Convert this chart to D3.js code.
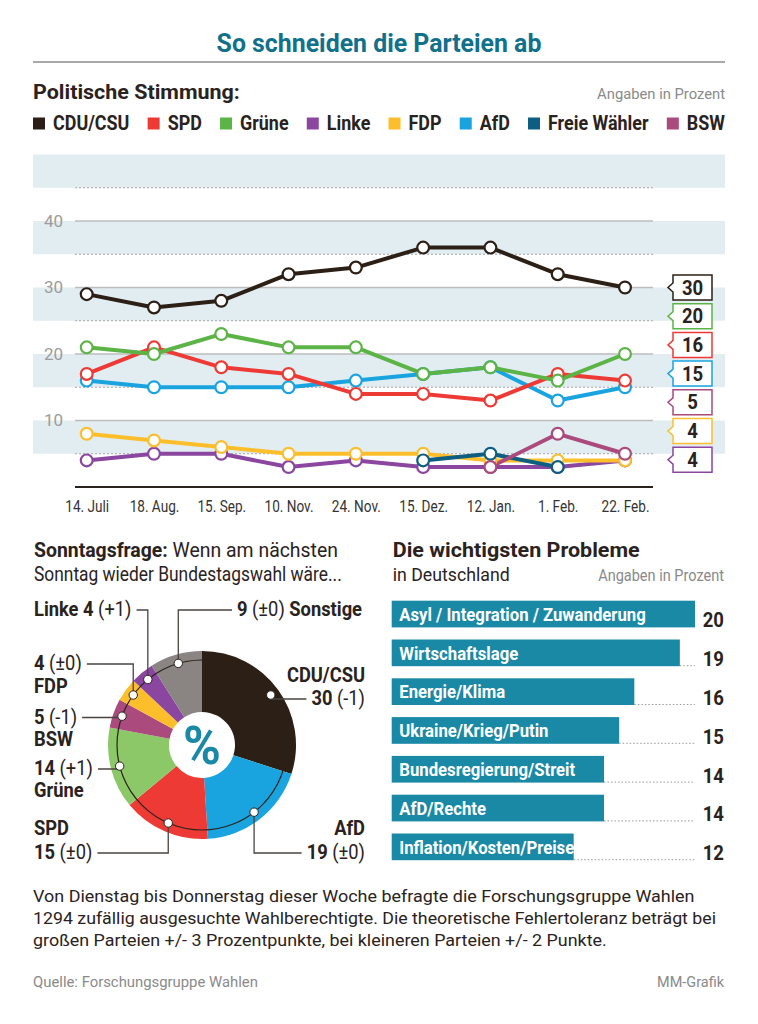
<!DOCTYPE html>
<html>
<head>
<meta charset="utf-8">
<script src="https://cdn.jsdelivr.net/npm/d3@7"></script>
<style>
  body { margin: 0; background: #fff; }
  text { white-space: pre; }
</style>
</head>
<body>
<svg id="canvas"></svg>
<script>
// ---- data ----
const dates = ["14. Juli", "18. Aug.", "15. Sep.", "10. Nov.", "24. Nov.", "15. Dez.", "12. Jan.", "1. Feb.", "22. Feb."];
const parties = ["CDU/CSU", "SPD", "Grüne", "Linke", "FDP", "AfD", "Freie Wähler", "BSW"];
const partyColors = ["#2b1f16", "#ee3a35", "#5cb446", "#8b46a0", "#fdbe2c", "#19a4e0", "#0d5e80", "#aa4a7d"];

const cduValues    = [29, 27, 28, 32, 33, 36, 36, 32, 30];
const spdValues    = [17, 21, 18, 17, 14, 14, 13, 17, 16];
const grueneValues = [21, 20, 23, 21, 21, 17, 18, 16, 20];
const linkeValues  = [4, 5, 5, 3, 4, 3, 3, 3, 4];
const fdpValues    = [8, 7, 6, 5, 5, 5, 4, 4, 4];
const afdValues    = [16, 15, 15, 15, 16, 17, 18, 13, 15];
const fwValues     = [null, null, null, null, null, 4, 5, 3, null];
const bswValues    = [null, null, null, null, null, null, 3, 8, 5];
const yTicks = [10, 20, 30, 40];

const pieParties = ["CDU/CSU", "AfD", "SPD", "Grüne", "BSW", "FDP", "Linke", "Sonstige"];
const pieValues  = [30, 19, 15, 14, 5, 4, 4, 9];
const pieChanges = ["-1", "±0", "±0", "+1", "-1", "±0", "+1", "±0"];
const pieColors  = ["#2b1f16", "#19a4e0", "#ee3a35", "#8cc868", "#aa4a7d", "#fdbe2c", "#8b46a0", "#8a8482"];

const problems = ["Asyl / Integration / Zuwanderung", "Wirtschaftslage", "Energie/Klima", "Ukraine/Krieg/Putin",
                  "Bundesregierung/Streit", "AfD/Rechte", "Inflation/Kosten/Preise"];
const problemValues = [20, 19, 16, 15, 14, 14, 12];

// ---- setup ----
const width = 758, height = 1024;
const FONT = "Roboto, 'Liberation Sans', sans-serif";
const INK = "#2a221d";
const TEAL = "#11708c";

const svg = d3.select("#canvas").attr("width", width).attr("height", height)
  .style("font-family", FONT);

// text helper: horizontally condensed text (the original uses a narrow grotesque)
function label(parent, x, y, parts, o = {}) {
  const g = parent.append("g").attr("transform", `translate(${x},${y})`);
  const t = g.append("text")
    .attr("font-size", o.size || 18)
    .attr("text-anchor", o.anchor || "start")
    .attr("fill", o.fill || INK);
  (typeof parts === "string" ? [[parts, o.weight || "normal"]] : parts)
    .forEach(p => t.append("tspan").attr("font-weight", p[1]).text(p[0]));
  const natural = t.node().getComputedTextLength();
  const s = o.w ? o.w / natural : (o.sx || 0.86);
  t.attr("transform", `scale(${s},1)`);
  return natural * s;
}

// ---- header ----
label(svg, 379, 51.5, "So schneiden die Parteien ab", { size: 26, weight: "bold", anchor: "middle", fill: TEAL, w: 325 });
svg.append("line").attr("x1", 33).attr("x2", 725).attr("y1", 62).attr("y2", 62)
  .attr("stroke", "#8c8c8c").attr("stroke-width", 1.5);
label(svg, 33, 99, "Politische Stimmung:", { size: 20.5, weight: "bold", w: 207 });
label(svg, 725, 99, "Angaben in Prozent", { size: 15.5, anchor: "end", fill: "#8a8a8a", w: 128 });

// legend, spread across the full width
const legend = svg.append("g");
const legendItems = parties.map((p, i) => {
  const g = legend.append("g");
  g.append("rect").attr("y", 117.5).attr("width", 12).attr("height", 12).attr("fill", partyColors[i]);
  const tw = label(g, 20, 130, p, { size: 19.5, weight: "bold", sx: 0.92 });
  return { g, w: 20 + tw };
});
const legendGap = (725 - 33 - d3.sum(legendItems, d => d.w)) / (legendItems.length - 1);
let lx = 33;
legendItems.forEach(d => { d.g.attr("transform", `translate(${lx},0)`); lx += d.w + legendGap; });

// ---- line chart ----
const x = d3.scalePoint().domain(dates).range([86.7, 625]);
const y = d3.scaleLinear().domain([0, 50]).range([487, 154.5]);

const chart = svg.append("g");
d3.range(5, 50, 10).forEach(v => {
  chart.append("rect").attr("x", 33).attr("width", 692)
    .attr("y", y(v + 5)).attr("height", y(v) - y(v + 5)).attr("fill", "#e2edf2");
  chart.append("line").attr("x1", 75).attr("x2", 653).attr("y1", y(v)).attr("y2", y(v))
    .attr("stroke", "#a5a5a5").attr("stroke-width", 1).attr("stroke-dasharray", "2,2");
});
yTicks.forEach(v => {
  chart.append("line").attr("x1", 75).attr("x2", 653).attr("y1", y(v)).attr("y2", y(v))
    .attr("stroke", "#bdbdbd").attr("stroke-width", 1.5);
});

const yAxis = chart.append("g").attr("transform", "translate(63,0)")
  .call(d3.axisLeft(y).tickValues(yTicks).tickSize(0).tickPadding(0));
yAxis.select(".domain").remove();
yAxis.selectAll("text").attr("font-family", FONT).attr("font-size", 17).attr("fill", "#9c9c9c");

const xAxis = chart.append("g").attr("transform", "translate(0,487)")
  .call(d3.axisBottom(x).tickSize(0).tickPadding(13));
xAxis.select(".domain").remove();
xAxis.selectAll("text").attr("font-family", FONT).attr("font-size", 17).attr("fill", "#333")
  .attr("transform", "scale(0.8,1)");
chart.append("line").attr("x1", 75).attr("x2", 653).attr("y1", 487).attr("y2", 487)
  .attr("stroke", INK).attr("stroke-width", 2);

const series = [
  { name: "Linke", values: linkeValues, color: partyColors[3] },
  { name: "FDP", values: fdpValues, color: partyColors[4] },
  { name: "Freie Wähler", values: fwValues, color: partyColors[6] },
  { name: "BSW", values: bswValues, color: partyColors[7] },
  { name: "AfD", values: afdValues, color: partyColors[5] },
  { name: "SPD", values: spdValues, color: partyColors[1] },
  { name: "Grüne", values: grueneValues, color: partyColors[2] },
  { name: "CDU/CSU", values: cduValues, color: partyColors[0] }
];

const line = d3.line()
  .defined(d => d != null)
  .x((d, i) => x(dates[i]))
  .y(d => y(d));

chart.selectAll(".series-line").data(series).enter().append("path")
  .attr("class", "series-line")
  .attr("d", s => line(s.values))
  .attr("fill", "none").attr("stroke", s => s.color)
  .attr("stroke-width", 4).attr("stroke-linejoin", "round");

series.forEach(s => {
  chart.selectAll(null)
    .data(s.values.map((v, i) => ({ v, i })).filter(d => d.v != null))
    .enter().append("circle")
    .attr("cx", d => x(dates[d.i])).attr("cy", d => y(d.v)).attr("r", 5.9)
    .attr("fill", "#fff").attr("stroke", s.color).attr("stroke-width", 2.2);
});

// end-value boxes
const last = dates.length - 1;
const ends = series
  .map((s, k) => ({ s, k, v: s.values[last] }))
  .filter(d => d.v != null && d.s.name !== "Freie Wähler")
  .sort((a, b) => b.v - a.v || b.k - a.k);
const boxTop = y(ends[0].v), boxStep = 28.7;
ends.forEach((d, i) => {
  const cy = boxTop + i * boxStep, bx = 673, bw = 39, bh = 25;
  chart.append("path")
    .attr("d", `M${bx},${cy - bh / 2}H${bx + bw}V${cy + bh / 2}H${bx}V${cy + 4.5}L${bx - 5},${cy}L${bx},${cy - 4.5}Z`)
    .attr("fill", "#fff").attr("stroke", d.s.color).attr("stroke-width", 1.5);
  label(chart, bx + bw / 2, cy + 7, String(d.v), { size: 19.5, weight: "bold", anchor: "middle", sx: 0.95 });
});

// ---- Sonntagsfrage (pie) ----
label(svg, 34, 556.5, [["Sonntagsfrage: ", "bold"], ["Wenn am nächsten", "normal"]], { size: 20.5, w: 304 });
label(svg, 34, 580.5, "Sonntag wieder Bundestagswahl wäre...", { size: 19.5, w: 308 });

const pc = { x: 202, y: 745 };
const pieG = svg.append("g").attr("transform", `translate(${pc.x},${pc.y})`);
const arcs = d3.pie().sort(null).value(d => d)(pieValues);
const arc = d3.arc().innerRadius(33).outerRadius(94);
const ringArc = d3.arc().innerRadius(85).outerRadius(85);

pieG.selectAll(".slice").data(arcs).enter().append("path")
  .attr("class", "slice").attr("d", arc).attr("fill", (d, i) => pieColors[i]);
pieG.append("circle").attr("r", 85).attr("fill", "none").attr("stroke", INK).attr("stroke-width", 1.2);
label(pieG, 0, 19, "%", { size: 54, weight: "bold", anchor: "middle", fill: "#1a89a6", sx: 0.95 });

// label layout per slice: value line position, optional name line, leader side
const pieLabelLayout = [
  { anchor: "end", x: 365, y: 705, nameY: 681.5 },        // CDU/CSU
  { anchor: "end", x: 365, y: 859, nameY: 835 },          // AfD
  { anchor: "start", x: 34, y: 859, nameY: 835 },         // SPD
  { anchor: "start", x: 34, y: 775, nameY: 797 },         // Grüne
  { anchor: "start", x: 34, y: 723.5, nameY: 746 },       // BSW
  { anchor: "start", x: 34, y: 670, nameY: 692.5 },       // FDP
  { anchor: "start", x: 34, y: 616, inline: "before" },   // Linke
  { anchor: "start", x: 237, y: 616, inline: "after" }    // Sonstige
];

const pieLabels = svg.append("g");
arcs.forEach((a, i) => {
  const L = pieLabelLayout[i];
  const name = pieParties[i], val = pieValues[i], ch = pieChanges[i];
  let parts;
  if (L.inline === "before") parts = [[name + " " + val + " ", "bold"], ["(" + ch + ")", "normal"]];
  else if (L.inline === "after") parts = [[val + " ", "bold"], ["(" + ch + ") ", "normal"], [name, "bold"]];
  else parts = [[val + " ", "bold"], ["(" + ch + ")", "normal"]];
  const tw = label(pieLabels, L.x, L.y, parts, { size: 19.5, anchor: L.anchor, sx: 0.94 });
  if (L.nameY) label(pieLabels, L.x, L.nameY, name, { size: 19.5, weight: "bold", anchor: L.anchor, sx: 0.94 });

  const c = ringArc.centroid(a);
  const dot = { x: pc.x + c[0], y: pc.y + c[1] };
  const ly = L.y - 6;
  let x0;
  if (L.inline === "after") x0 = L.x - 5;
  else x0 = L.anchor === "start" ? L.x + tw + 5 : L.x - tw - 5;
  pieLabels.append("path")
    .attr("d", d3.line()([[x0, ly], [dot.x, ly], [dot.x, dot.y]]))
    .attr("fill", "none").attr("stroke", "#4a4440").attr("stroke-width", 1.3);
  pieLabels.append("circle").attr("cx", dot.x).attr("cy", dot.y).attr("r", 4.2)
    .attr("fill", "#fff").attr("stroke", INK).attr("stroke-width", 1);
});

// ---- Die wichtigsten Probleme (bars) ----
label(svg, 392.7, 556.5, "Die wichtigsten Probleme", { size: 20.5, weight: "bold", w: 247 });
label(svg, 392.7, 580.5, "in Deutschland", { size: 18.5, w: 117 });
label(svg, 724, 580.5, "Angaben in Prozent", { size: 16, anchor: "end", fill: "#8a8a8a", w: 126 });

const bx = d3.scaleLinear().domain([0, d3.max(problemValues)]).range([391.7, 695]);
const by = d3.scaleBand().domain(problems).range([600.7, 860.2]).paddingInner(0.312).paddingOuter(0);
const bars = svg.append("g");

bars.selectAll(".dots").data(problems).enter().append("line")
  .attr("x1", (d, i) => bx(problemValues[i])).attr("x2", bx.range()[1])
  .attr("y1", d => by(d) + by.bandwidth() - 0.5).attr("y2", d => by(d) + by.bandwidth() - 0.5)
  .attr("stroke", "#9a9a9a").attr("stroke-width", 1).attr("stroke-dasharray", "1.5,2");

bars.selectAll(".bar").data(problems).enter().append("rect")
  .attr("class", "bar")
  .attr("x", bx(0)).attr("y", d => by(d))
  .attr("width", (d, i) => bx(problemValues[i]) - bx(0))
  .attr("height", by.bandwidth())
  .attr("fill", "#1a89a6");

problems.forEach((p, i) => {
  const cy = by(p) + by.bandwidth() / 2;
  label(bars, 399.3, cy + 6.8, p, { size: 19, weight: "bold", fill: "#fff", sx: 0.88 });
  label(bars, 724, by(p) + by.bandwidth(), String(problemValues[i]), { size: 19.5, weight: "bold", anchor: "end", sx: 0.95 });
});

// ---- footer ----
const note = [
  "Von Dienstag bis Donnerstag dieser Woche befragte die Forschungsgruppe Wahlen",
  "1294 zufällig ausgesuchte Wahlberechtigte. Die theoretische Fehlertoleranz beträgt bei",
  "großen Parteien +/- 3 Prozentpunkte, bei kleineren Parteien +/- 2 Punkte."
];
const noteWidths = [662, 684, 574];
note.forEach((t, i) => label(svg, 33, 902.3 + i * 21.7, t, { size: 17, w: noteWidths[i] }));
label(svg, 33, 987, "Quelle: Forschungsgruppe Wahlen", { size: 15.5, fill: "#8a8a8a", w: 225 });
label(svg, 724, 987, "MM-Grafik", { size: 15.5, anchor: "end", fill: "#8a8a8a", w: 67 });
</script>
</body>
</html>
